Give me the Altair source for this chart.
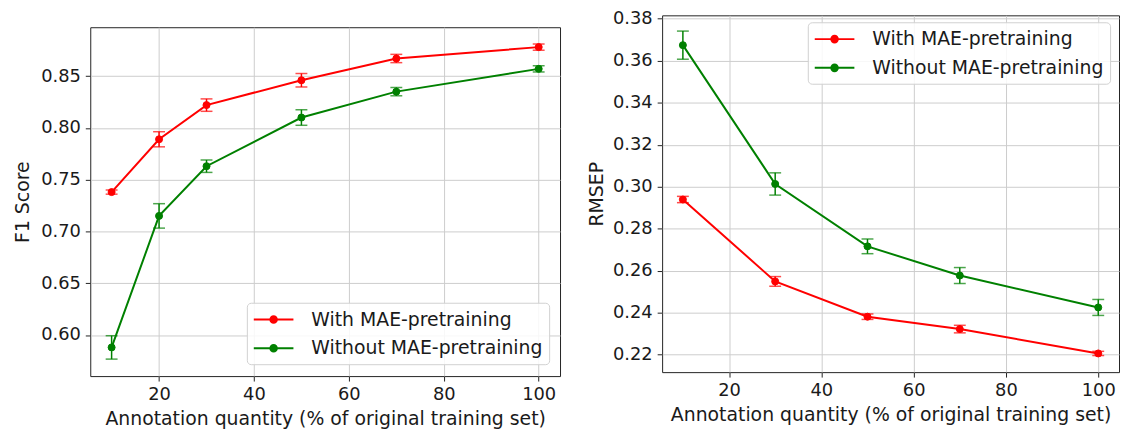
import altair as alt
import pandas as pd

SERIES = ["With MAE-pretraining", "Without MAE-pretraining"]
COLORS = ["#ff0000", "#008000"]

# Left panel: F1 score
x_left = [10, 20, 30, 50, 70, 100]
f1_with = [0.738, 0.789, 0.822, 0.846, 0.867, 0.878]
f1_with_err = [0.002, 0.0073, 0.006, 0.0065, 0.004, 0.003]
f1_without = [0.588, 0.715, 0.763, 0.810, 0.835, 0.857]
f1_without_err = [0.0113, 0.0118, 0.006, 0.0075, 0.004, 0.003]

# Right panel: RMSEP
x_right = [10, 30, 50, 70, 100]
rmsep_with = [0.2939, 0.2549, 0.2381, 0.2322, 0.2206]
rmsep_with_err = [0.0015, 0.0023, 0.0013, 0.0018, 0.001]
rmsep_without = [0.3674, 0.3013, 0.2716, 0.2577, 0.2425]
rmsep_without_err = [0.0067, 0.0053, 0.0035, 0.0038, 0.0038]

x_ticks = [20, 40, 60, 80, 100]
f1_ticks = [0.60, 0.65, 0.70, 0.75, 0.80, 0.85]
rmsep_ticks = [0.22, 0.24, 0.26, 0.28, 0.30, 0.32, 0.34, 0.36, 0.38]

X_TITLE = "Annotation quantity (% of original training set)"
FONT = "DejaVu Sans"
TXT = "#1a1a1a"

# legend glyph: a line with a dot in the middle
SYMBOL = "M-2,0L2,0M0.33,0A0.33,0.33 0 1 1 -0.33,0A0.33,0.33 0 1 1 0.33,0Z"


def make_df(xs, v1, e1, v2, e2):
    rows = []
    for name, vals, errs in ((SERIES[0], v1, e1), (SERIES[1], v2, e2)):
        for xv, v, e in zip(xs, vals, errs):
            rows.append({"x": xv, "value": v, "lo": v - e, "hi": v + e, "series": name})
    return pd.DataFrame(rows)


def panel(df, ytitle, ydomain, yticks, yfmt, lx, ly, w, h, title_pad):
    cs = alt.Scale(domain=SERIES, range=COLORS)
    xenc = alt.X("x:Q", scale=alt.Scale(domain=[5.5, 104.5], nice=False, zero=False),
                 axis=alt.Axis(values=x_ticks, title=X_TITLE, format="d"))
    yscale = alt.Scale(domain=ydomain, nice=False, zero=False)
    yaxis = alt.Axis(values=yticks, title=ytitle, format=yfmt, titlePadding=title_pad)
    base = alt.Chart(df)
    leg = alt.Legend(
        title=None, orient="none", legendX=lx, legendY=ly,
        symbolType=SYMBOL, symbolSize=400, symbolStrokeWidth=2, symbolOffset=10,
        labelFont=FONT, labelFontSize=19, labelColor=TXT, labelOffset=27, labelLimit=600,
        padding=6, rowPadding=8, fillColor="rgba(255,255,255,0.85)",
        strokeColor="#d0d0d0", cornerRadius=4,
    )
    fill = alt.Fill("series:N", scale=cs, legend=leg)
    stroke = alt.Stroke("series:N", scale=cs, legend=leg)
    pts = base.mark_point(filled=True, size=50, strokeWidth=1, opacity=1).encode(
        x=xenc, y=alt.Y("value:Q", scale=yscale, axis=yaxis), fill=fill, stroke=stroke)
    rule = base.mark_rule(strokeWidth=1.5).encode(
        x="x:Q", y="lo:Q", y2="hi:Q", stroke=stroke)
    cap_lo = base.mark_tick(orient="horizontal", size=12, thickness=1.5).encode(
        x="x:Q", y="lo:Q", fill=fill)
    cap_hi = base.mark_tick(orient="horizontal", size=12, thickness=1.5).encode(
        x="x:Q", y="hi:Q", fill=fill)
    line = base.mark_line(strokeWidth=2).encode(
        x="x:Q", y="value:Q", stroke=stroke)
    return alt.layer(pts, rule, cap_lo, cap_hi, line).properties(width=w, height=h)


left_df = make_df(x_left, f1_with, f1_with_err, f1_without, f1_without_err)
# left legend position is relative to the top of the left column (spacer included)
left = panel(left_df, "F1 Score", [0.5603, 0.8972], f1_ticks, ".2f", 158, 290, 474, 352, 8)
right = panel(make_df(x_right, rmsep_with, rmsep_with_err, rmsep_without, rmsep_without_err),
              "RMSEP", [0.2117, 0.3816], rmsep_ticks, ".2f", 147, 7, 461, 360, 6)

# empty, invisible strip that pushes the left panel's frame a little lower
spacer = alt.Chart(left_df.head(1)).mark_point(opacity=0).encode(
    x=alt.value(0), y=alt.value(0)
).properties(width=474, height=2, view=alt.ViewConfig(stroke="transparent"))

left_col = alt.vconcat(spacer, left, spacing=7)

chart = alt.hconcat(left_col, right, spacing=26).resolve_scale(
    fill="independent", stroke="independent"
).resolve_legend(
    fill="independent", stroke="independent"
).properties(
    padding={"left": 5, "top": -1.5, "right": 0, "bottom": 0},
    background="white",
).configure_view(stroke="#222222", strokeWidth=1).configure_axis(
    domain=False, grid=True, gridColor="#cccccc", gridWidth=1,
    tickColor="#222222", tickSize=5, tickWidth=1,
    labelFont=FONT, labelFontSize=18, labelColor=TXT, labelPadding=5,
    titleFont=FONT, titleFontSize=19, titleFontWeight="normal", titleColor=TXT,
    titlePadding=6, labelFlush=False,
)

chart.save("out.html", embed_options={"renderer": "svg", "actions": False})
